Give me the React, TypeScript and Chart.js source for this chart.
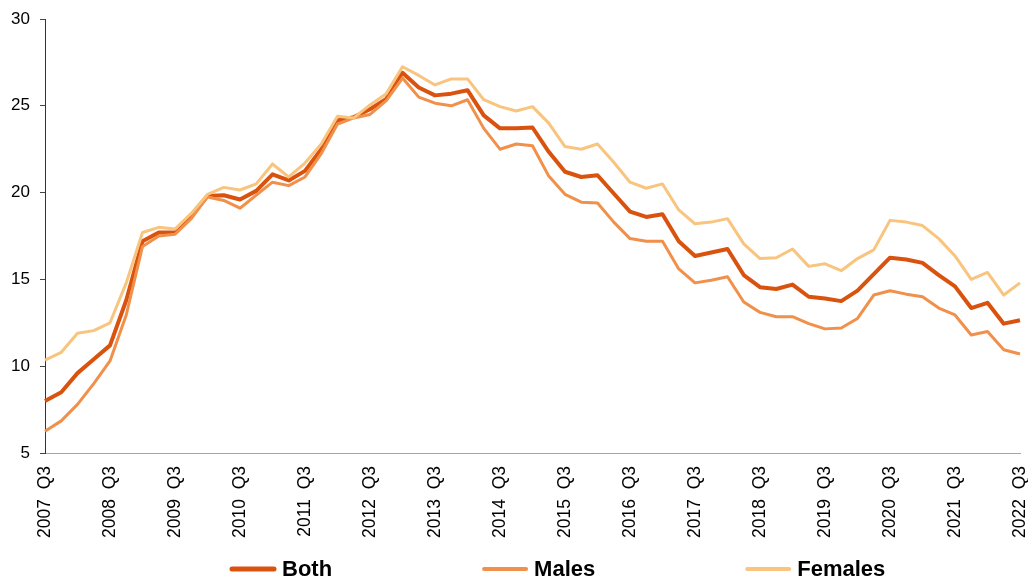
import React, { useEffect, useRef } from "react";
import { Chart, registerables } from "chart.js";

Chart.register(...registerables);

// Quarter labels, 2007 Q3 .. 2022 Q3
const START_YEAR = 2007;
const END_YEAR = 2022;
const quarters: string[] = [];
for (let y = START_YEAR; y <= END_YEAR; y++) {
  for (let q = 1; q <= 4; q++) {
    if (y === START_YEAR && q < 3) continue;
    if (y === END_YEAR && q > 3) continue;
    quarters.push(`${y}  Q${q}`);
  }
}

const bothValues = [
  8.0, 8.5, 9.6, 10.4, 11.2, 13.8, 17.2, 17.7, 17.7, 18.65,
  19.8, 19.85, 19.6, 20.1, 21.05, 20.7, 21.25, 22.5, 24.15, 24.35,
  24.8, 25.4, 26.9, 26.05, 25.6, 25.7, 25.9, 24.45, 23.7, 23.7,
  23.75, 22.35, 21.2, 20.9, 21.0, 19.95, 18.9, 18.6, 18.75, 17.2,
  16.35, 16.55, 16.75, 15.25, 14.55, 14.45, 14.7, 14.0, 13.9, 13.75,
  14.35, 15.3, 16.25, 16.15, 15.95, 15.25, 14.6, 13.35, 13.65, 12.45,
  12.65,
];

const maleValues = [
  6.25, 6.85, 7.8, 9.0, 10.3, 12.95, 16.9, 17.5, 17.6, 18.5,
  19.75, 19.55, 19.1, 19.85, 20.6, 20.4, 20.9, 22.25, 23.95, 24.3,
  24.5, 25.3, 26.6, 25.5, 25.15, 25.0, 25.35, 23.7, 22.5, 22.8,
  22.7, 20.95, 19.9, 19.45, 19.4, 18.3, 17.35, 17.2, 17.2, 15.6,
  14.8, 14.95, 15.15, 13.7, 13.1, 12.85, 12.85, 12.45, 12.15, 12.2,
  12.75, 14.1, 14.35, 14.15, 14.0, 13.35, 12.95, 11.8, 12.0, 10.95,
  10.7,
];

const femaleValues = [
  10.35, 10.8, 11.9, 12.05, 12.5, 14.8, 17.7, 18.0, 17.9, 18.8,
  19.9, 20.3, 20.15, 20.5, 21.65, 20.9, 21.7, 22.8, 24.4, 24.3,
  25.05, 25.7, 27.25, 26.75, 26.2, 26.55, 26.55, 25.35, 24.95, 24.7,
  24.95, 24.0, 22.65, 22.5, 22.8, 21.75, 20.6, 20.25, 20.5, 19.0,
  18.2, 18.3, 18.5, 17.05, 16.2, 16.25, 16.75, 15.75, 15.9, 15.5,
  16.2, 16.7, 18.4, 18.3, 18.1, 17.35, 16.35, 15.0, 15.4, 14.1,
  14.8,
];

const seriesNames = ["Both", "Males", "Females"];
const seriesColors = ["#D9530F", "#F0904A", "#F8C47E"];
const seriesWidths = [4, 3, 3];

const yTicks = [5, 10, 15, 20, 25, 30];

const FONT = '"Liberation Sans", Arial, Helvetica, sans-serif';

const legendPlugin = {
  id: "bottomLegend",
  afterDraw(chart: any) {
    const ctx = chart.ctx as CanvasRenderingContext2D;
    ctx.save();
    ctx.font = `bold 22px ${FONT}`;
    ctx.textBaseline = "middle";
    ctx.textAlign = "left";
    const y = chart.height - 13;
    const swatch = 46;
    const textGap = 6;
    const itemGap = 150;
    let x = 230;
    seriesNames.forEach((name, i) => {
      ctx.strokeStyle = seriesColors[i];
      ctx.lineWidth = i === 0 ? 5 : 4;
      ctx.lineCap = "round";
      ctx.beginPath();
      ctx.moveTo(x + 2, y);
      ctx.lineTo(x + swatch - 2, y);
      ctx.stroke();
      ctx.fillStyle = "#000";
      ctx.fillText(name, x + swatch + textGap, y + 1);
      const w = ctx.measureText(name).width;
      x += swatch + textGap + w + itemGap;
    });
    ctx.restore();
  },
};

export default function App() {
  const canvasRef = useRef<HTMLCanvasElement | null>(null);

  useEffect(() => {
    document.body.style.margin = "0";
    const canvas = canvasRef.current;
    if (!canvas) return;
    const valueSets = [bothValues, maleValues, femaleValues];
    const chart = new Chart(canvas, {
      type: "line",
      data: {
        labels: quarters,
        datasets: seriesNames.map((name, i) => ({
          label: name,
          data: valueSets[i],
          borderColor: seriesColors[i],
          backgroundColor: seriesColors[i],
          borderWidth: seriesWidths[i],
          pointRadius: 0,
          pointHoverRadius: 0,
          tension: 0,
          fill: false,
          borderJoinStyle: "round" as const,
          order: 3 - i,
        })),
      },
      options: {
        responsive: false,
        animation: false,
        events: [],
        layout: {
          padding: { left: 10, right: 8, top: 19, bottom: 31 },
        },
        plugins: {
          legend: { display: false },
          tooltip: { enabled: false },
          title: { display: false },
        },
        scales: {
          x: {
            type: "category",
            offset: false,
            grid: { display: false, drawTicks: false },
            border: { display: true, color: "#A6A6A6", width: 1 },
            afterFit: (scale: any) => {
              scale.paddingLeft = 0;
              scale.paddingRight = 0;
            },
            ticks: {
              autoSkip: false,
              maxRotation: 90,
              minRotation: 90,
              padding: 13,
              color: "#000",
              font: { family: FONT, size: 17.5 },
              callback: (_v: any, idx: number) =>
                idx % 4 === 0 ? quarters[idx] : "",
            },
          },
          y: {
            min: 5,
            max: 30,
            afterBuildTicks: (scale: any) => {
              scale.ticks = yTicks.map((v) => ({ value: v }));
            },
            afterFit: (scale: any) => {
              scale.width = 35;
              scale.paddingTop = 0;
              scale.paddingBottom = 0;
            },
            grid: {
              display: true,
              drawOnChartArea: false,
              drawTicks: true,
              tickLength: 5,
              color: "#444",
            },
            border: { display: true, color: "#333", width: 1 },
            ticks: {
              padding: 10,
              color: "#000",
              font: { family: FONT, size: 17 },
            },
          },
        },
      },
      plugins: [legendPlugin],
    });
    return () => chart.destroy();
  }, []);

  return (
    <div style={{ position: "absolute", left: 0, top: 0, width: 1028, height: 582 }}>
      <canvas ref={canvasRef} width={1028} height={582} style={{ display: "block" }} />
    </div>
  );
}
